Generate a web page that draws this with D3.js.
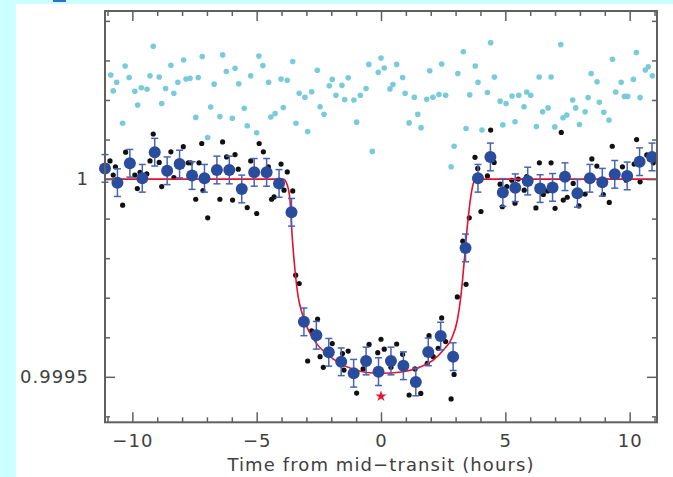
<!DOCTYPE html>
<html><head><meta charset="utf-8">
<script src="https://cdn.jsdelivr.net/npm/d3@7"></script>
<style>
html,body{margin:0;padding:0;background:#ccffff;}
svg{display:block;}
</style></head>
<body>
<svg id="chart" width="673" height="477"></svg>
<script>
// ---- DATA (time in hours from mid-transit; flux deviations in ppm relative to 1) ----
// Residuals (cyan), plotted with offset
const cyanTime = [-10.87,-10.77,-10.63,-10.39,-10.29,-10.13,-9.90,-9.79,-9.64,-9.41,-9.29,-9.16,-8.92,-8.82,-8.66,-8.45,-8.33,-8.17,-7.94,-7.84,-7.68,-7.45,-7.35,-7.19,-6.97,-6.85,-6.71,-6.48,-6.37,-6.22,-5.98,-5.87,-5.72,-5.50,-5.38,-5.24,-5.00,-4.91,-4.75,-4.52,-4.43,-4.26,-4.02,-3.93,-3.77,-3.55,-3.42,-3.29,-3.06,-2.95,-2.79,-2.56,-2.45,-2.29,-2.08,-1.96,-1.81,-1.57,-1.46,-1.32,-1.09,-0.98,-0.83,-0.60,-0.49,-0.35,-0.11,0.00,0.13,0.36,0.48,0.63,0.87,0.97,1.13,1.34,1.48,1.61,1.84,1.96,2.09,2.33,2.44,2.60,2.82,2.94,3.09,3.31,3.42,3.57,3.79,3.90,4.06,4.28,4.41,4.56,4.79,4.90,5.03,5.27,5.39,5.54,5.75,5.86,6.02,6.25,6.36,6.50,6.72,6.84,6.99,7.23,7.32,7.47,7.71,7.83,7.98,8.21,8.33,8.45,8.69,8.78,8.96,9.17,9.31,9.44,9.66,9.79,9.92,10.15,10.27,10.42,10.63,10.75,10.91];
const cyanPPM  = [263,223,245,141,286,257,222,187,231,227,261,336,258,191,229,288,217,245,301,253,255,156,257,310,105,182,240,158,314,272,154,280,241,179,135,261,117,311,287,245,157,166,253,181,250,297,141,217,207,120,221,275,183,164,236,252,212,237,201,256,200,144,212,229,290,70,270,306,281,228,239,290,257,217,142,207,164,130,202,274,207,214,291,212,31,83,267,322,128,213,286,245,124,219,345,258,197,137,191,210,145,212,183,220,212,133,258,170,180,258,132,340,155,162,200,180,138,170,206,267,246,194,169,149,303,220,245,209,209,252,320,206,276,284,261];

// Unbinned photometry (black)
const rawTime = [-10.90,-10.77,-10.68,-10.39,-10.27,-9.90,-9.80,-9.69,-9.42,-9.29,-9.16,-8.92,-8.82,-8.45,-8.33,-7.95,-7.75,-7.65,-7.45,-7.32,-7.21,-7.16,-6.97,-6.48,-6.37,-6.21,-5.97,-5.87,-5.74,-5.38,-5.24,-5.00,-4.90,-4.73,-4.53,-4.40,-4.30,-4.02,-3.90,-3.77,-3.55,-3.43,
  -3.29,-2.95,-2.79,-2.55,-2.45,-2.32,-1.96,-1.55,-1.32,-1.49,-0.98,-0.72,-0.48,-0.13,0.00,0.13,0.40,0.63,0.87,1.13,1.37,1.60,1.86,1.93,2.10,2.30,2.44,2.60,2.82,2.94,3.07,3.29,3.42,3.55,
  3.78,3.89,4.02,4.28,4.41,4.55,4.79,4.88,5.06,5.26,5.39,5.52,5.76,5.86,5.99,6.23,6.37,6.53,6.70,6.84,7.00,7.25,7.33,7.49,7.73,7.96,8.21,8.48,8.68,8.94,9.18,9.30,9.71,9.86,10.18,10.28,10.42,10.69,10.80,10.95];
const rawPPM  = [46,10,31,-66,68,10,-24,17,13,46,114,42,-19,69,4,82,41,41,-51,41,90,-29,-98,-51,94,56,-53,62,25,-72,46,-87,90,69,31,-51,-45,38,-28,18,-30,-243,
  -264,-460,-384,-354,-449,-476,-416,-441,-435,-483,-541,-480,-418,-439,-405,-430,-476,-417,-443,-546,-480,-542,-466,-396,-449,-428,-351,-411,-556,-494,-298,-157,-266,-98,
  55,27,-82,8,124,42,-13,-70,-19,-3,-61,0,-28,6,0,-73,41,-39,-30,41,-74,118,-53,-46,-11,-68,-38,51,33,-39,-59,83,31,-3,38,100,-7,61,50,41];

// Binned photometry (blue) with 1-sigma errors
const binTime = [-11.1,-10.6,-10.1,-9.6,-9.1,-8.6,-8.1,-7.6,-7.1,-6.6,-6.1,-5.6,-5.1,-4.6,-4.1,-3.6,-3.1,-2.6,-2.1,-1.6,-1.1,-0.6,-0.1,0.4,0.9,1.4,1.9,2.4,2.9,3.4,3.9,4.4,4.9,5.4,5.9,6.4,6.9,7.4,7.9,8.4,8.9,9.4,9.9,10.4,10.9];
const binPPM  = [27,-9,40,2,68,21,38,9,2,23,23,-25,17,17,-11,-84,-361,-395,-438,-462,-491,-460,-487,-460,-472,-513,-437,-397,-449,-174,2,56,-34,-22,-5,-24,-21,6,-36,2,-8,12,8,44,56];
const binErrPPM = 35;

// Transit model (red)
const modelTime = [-11.1,-3.93,-3.77,-3.66,-3.57,-3.46,-3.33,-3.17,-2.92,-2.59,-2.12,-1.65,-1.11,-0.58,-0.04,0.90,1.57,2.10,2.51,2.84,3.07,3.21,3.34,3.47,3.61,3.74,3.91,11.1];
const modelPPM  = [0,0,-15,-53,-146,-230,-298,-340,-382,-416,-445,-466,-481,-489,-491,-487,-475,-458,-432,-403,-357,-298,-213,-121,-45,-7,0,0];

// Star marker
const starTime = [0];
const starPPM = [-549];

// Axes ticks
const xMajorTicks = [-10,-5,0,5,10];
const xMinorTicks = [-11,-9,-8,-7,-6,-4,-3,-2,-1,1,2,3,4,6,7,8,9,11];
const yMajorTicks = [1, 0.9995];
const yMinorTicks = [0.9994,0.9996,0.9997,0.9998,0.9999,1.0001,1.0002,1.0003,1.0004];
const xLabel = "Time from mid\u2212transit (hours)";

// ---- CHART ----
const svg = d3.select("#chart");
const L = 105, R = 657, T = 11, B = 422.3;
const x = d3.scaleLinear().domain([-11.1, 11.1]).range([L, R]);
const y = d3.scaleLinear().domain([0.999385, 1.000425]).range([B, T]);
const fy = ppm => y(1 + ppm / 1e6);

// white panel
svg.append("rect").attr("x", 16).attr("y", 4).attr("width", 673 - 16).attr("height", 477 - 4).attr("fill", "#ffffff");
svg.append("rect").attr("x", 53).attr("y", 0).attr("width", 13).attr("height", 2).attr("fill", "#2f6fd0");

const fontFam = "'DejaVu Sans', sans-serif";
const textCol = "#404040";
const axCol = "#606060";

// clip
svg.append("defs").append("clipPath").attr("id", "clip")
  .append("rect").attr("x", L).attr("y", T).attr("width", R - L).attr("height", B - T);

const plot = svg.append("g");

// cyan residuals
plot.append("g").selectAll("circle").data(cyanTime).join("circle")
  .attr("cx", (d) => x(d)).attr("cy", (d, i) => fy(cyanPPM[i])).attr("r", 2.8)
  .attr("fill", "#78cbdb");

// black raw points
plot.append("g").selectAll("circle").data(rawTime).join("circle")
  .attr("cx", (d) => x(d)).attr("cy", (d, i) => fy(rawPPM[i])).attr("r", 2.6)
  .attr("fill", "#111");

// model line
const line = d3.line().x(d => x(d[0])).y(d => fy(d[1])).curve(d3.curveMonotoneX);
plot.append("path").datum(modelTime.map((t, i) => [t, modelPPM[i]]))
  .attr("d", line).attr("fill", "none").attr("stroke", "#e8102e").attr("stroke-width", 1.6)
  .attr("clip-path", "url(#clip)");

// binned with error bars
const eb = plot.append("g").attr("stroke", "#4664b4").attr("stroke-width", 1.5);
binTime.forEach((t, i) => {
  const cx = x(t), top = fy(binPPM[i] + binErrPPM), bot = fy(binPPM[i] - binErrPPM);
  eb.append("line").attr("x1", cx).attr("x2", cx).attr("y1", top).attr("y2", bot);
  eb.append("line").attr("x1", cx - 3.5).attr("x2", cx + 3.5).attr("y1", top).attr("y2", top);
  eb.append("line").attr("x1", cx - 3.5).attr("x2", cx + 3.5).attr("y1", bot).attr("y2", bot);
});
plot.append("g").selectAll("circle").data(binTime).join("circle")
  .attr("cx", d => x(d)).attr("cy", (d, i) => fy(binPPM[i])).attr("r", 6)
  .attr("fill", "#2a4c9c");

// star
plot.append("g").selectAll("path").data(starTime).join("path")
  .attr("d", d3.symbol().type(d3.symbolStar).size(38))
  .attr("transform", (d, i) => `translate(${x(d)},${fy(starPPM[i])})`)
  .attr("fill", "#e8102e");

// axes
function styleAxis(g) {
  g.select(".domain").remove();
  g.selectAll(".tick line").attr("stroke", axCol).attr("stroke-width", 1.5);
  g.selectAll("text").attr("fill", textCol).attr("font-family", fontFam).attr("font-size", 18).attr("letter-spacing", 1);
}
svg.append("g").attr("transform", `translate(0,${B})`)
  .call(d3.axisBottom(x).tickValues(xMajorTicks).tickSize(-10).tickPadding(12).tickFormat(d => d < 0 ? "\u2212" + Math.abs(d) : String(d)))
  .call(styleAxis);
svg.append("g").attr("transform", `translate(0,${B})`)
  .call(d3.axisBottom(x).tickValues(xMinorTicks).tickSize(-5).tickFormat(""))
  .call(styleAxis);
svg.append("g").attr("transform", `translate(0,${T})`)
  .call(d3.axisTop(x).tickValues(xMajorTicks).tickSize(-10).tickFormat(""))
  .call(styleAxis);
svg.append("g").attr("transform", `translate(0,${T})`)
  .call(d3.axisTop(x).tickValues(xMinorTicks).tickSize(-5).tickFormat(""))
  .call(styleAxis);
svg.append("g").attr("transform", `translate(${L},0)`)
  .call(d3.axisLeft(y).tickValues(yMajorTicks).tickSize(-10).tickPadding(16).tickFormat(d => String(d)))
  .call(styleAxis);
svg.append("g").attr("transform", `translate(${L},0)`)
  .call(d3.axisLeft(y).tickValues(yMinorTicks).tickSize(-5).tickFormat(""))
  .call(styleAxis);
svg.append("g").attr("transform", `translate(${R},0)`)
  .call(d3.axisRight(y).tickValues(yMajorTicks).tickSize(-10).tickFormat(""))
  .call(styleAxis);
svg.append("g").attr("transform", `translate(${R},0)`)
  .call(d3.axisRight(y).tickValues(yMinorTicks).tickSize(-5).tickFormat(""))
  .call(styleAxis);

// frame
svg.append("rect").attr("x", L).attr("y", T).attr("width", R - L).attr("height", B - T)
  .attr("fill", "none").attr("stroke", axCol).attr("stroke-width", 2);

// x label
svg.append("text").attr("x", (L + R) / 2).attr("y", 471).attr("text-anchor", "middle")
  .attr("fill", textCol).attr("font-family", fontFam).attr("font-size", 18).attr("letter-spacing", 1.1)
  .text(xLabel);
</script>
</body></html>
